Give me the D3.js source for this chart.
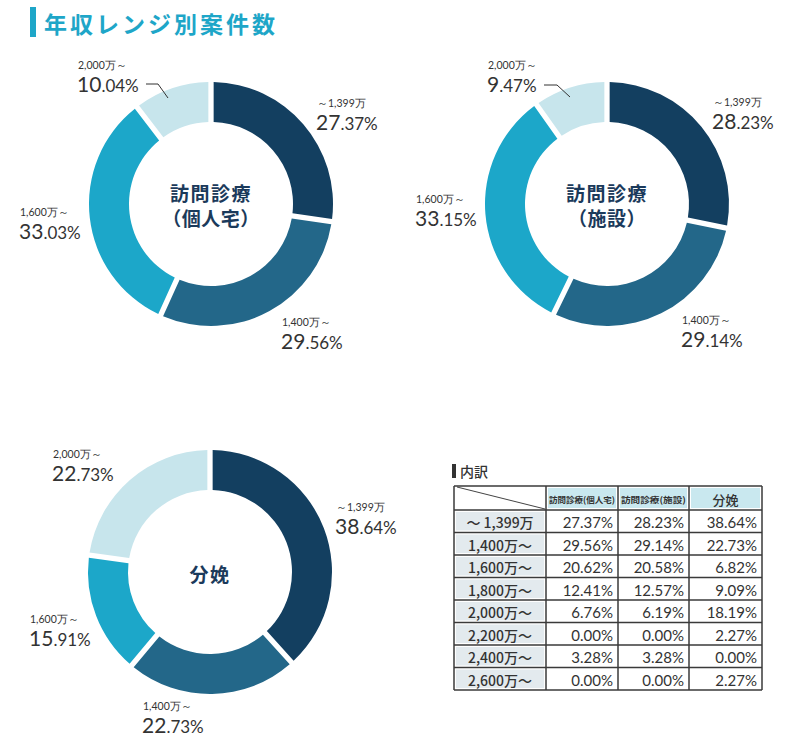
<!DOCTYPE html>
<html><head><meta charset="utf-8">
<script src="https://cdn.jsdelivr.net/npm/d3@7"></script>
<style>
html,body{margin:0;padding:0;background:#fff;}
svg{display:block;}
</style></head>
<body>
<script>
// ---- data ----
const categories = ["～1,399万", "1,400万～", "1,600万～", "2,000万～"];
const homeVisitPrivate = [27.37, 29.56, 33.03, 10.04];
const homeVisitFacility = [28.23, 29.14, 33.15, 9.47];
const childbirth = [38.64, 22.73, 15.91, 22.73];
const chartTitles = [["訪問診療", "（個人宅）"], ["訪問診療", "（施設）"], ["分娩"]];

const tableRows = ["～ 1,399万", "1,400万～", "1,600万～", "1,800万～", "2,000万～", "2,200万～", "2,400万～", "2,600万～"];
const tableCols = ["訪問診療(個人宅)", "訪問診療(施設)", "分娩"];
const tablePrivate = [27.37, 29.56, 20.62, 12.41, 6.76, 0.00, 3.28, 0.00];
const tableFacility = [28.23, 29.14, 20.58, 12.57, 6.19, 0.00, 3.28, 0.00];
const tableBirth = [38.64, 22.73, 6.82, 9.09, 18.19, 2.27, 0.00, 2.27];

// ---- layout / style ----
const W = 800, H = 744;
const colors = ["#133f60", "#236789", "#1ca7c9", "#c7e5ec"];
const numFont = "Lato, 'Noto Sans', sans-serif";
const jpFont = "'Noto Sans CJK JP', 'Noto Sans', sans-serif";

const svg = d3.select("body").append("svg").attr("width", W).attr("height", H);

// Title
svg.append("rect").attr("x", 30).attr("y", 7).attr("width", 6).attr("height", 30).attr("fill", "#1ea6c8");
svg.append("text").attr("x", 44).attr("y", 23).attr("dominant-baseline", "central")
  .attr("font-family", jpFont).attr("font-size", 23).attr("font-weight", 700)
  .attr("letter-spacing", 3).attr("fill", "#1ea6c8").text("年収レンジ別案件数");

const donuts = [
  { values: homeVisitPrivate, title: chartTitles[0], cx: 211, cy: 204,
    labels: [[317, 103], [282, 322], [20, 212], [78, 65]], leader: [3, [[146, 84], [158, 84], [168, 98]]] },
  { values: homeVisitFacility, title: chartTitles[1], cx: 607, cy: 204,
    labels: [[713, 102], [682, 320], [416, 199], [488, 65]], leader: [3, [[544, 85], [557, 85], [570, 97]]] },
  { values: childbirth, title: chartTitles[2], cx: 210, cy: 572,
    labels: [[336, 507], [143, 706], [30, 619], [53, 454]], leader: null }
];

const rOuter = 122, rInner = 82;
const arc = d3.arc().innerRadius(rInner).outerRadius(rOuter);
const pie = d3.pie().sort(null).value(d => d).startAngle(0).endAngle(2 * Math.PI).padAngle(0.036);

donuts.forEach(dn => {
  const g = svg.append("g").attr("transform", `translate(${dn.cx},${dn.cy})`);
  g.selectAll("path").data(pie(dn.values)).join("path")
    .attr("d", arc).attr("fill", (d, i) => colors[i]);

  // centre title
  const n = dn.title.length;
  dn.title.forEach((t, i) => {
    g.append("text").attr("x", 0).attr("y", (i - (n - 1) / 2) * 25 + 1)
      .attr("text-anchor", "middle").attr("dominant-baseline", "central")
      .attr("font-family", jpFont).attr("font-size", 19).attr("font-weight", 700)
      .attr("letter-spacing", i === 0 ? 1.5 : 0.5).attr("fill", "#1b3a5b").text(t);
  });

  // labels
  dn.values.forEach((v, i) => {
    const [lx, ly] = dn.labels[i];
    svg.append("text").attr("x", lx).attr("y", ly).attr("dominant-baseline", "central")
      .attr("font-family", numFont).attr("font-size", 10.5).attr("font-weight", 400)
      .attr("fill", "#333").text(categories[i]);
    const s = v.toFixed(2).split(".");
    const t = svg.append("text").attr("x", lx - 1).attr("y", ly + 27)
      .attr("font-family", numFont).attr("fill", "#333");
    t.append("tspan").attr("font-size", 21).attr("font-weight", 400).text(s[0]);
    t.append("tspan").attr("font-size", 17).attr("font-weight", 400).text("." + s[1] + "%");
  });

  if (dn.leader) {
    svg.append("path").attr("d", d3.line()(dn.leader[1]))
      .attr("fill", "none").attr("stroke", "#333").attr("stroke-width", 1);
  }
});

// ---- table ----
svg.append("rect").attr("x", 452).attr("y", 464).attr("width", 4).attr("height", 14).attr("fill", "#333");
svg.append("text").attr("x", 460).attr("y", 471).attr("dominant-baseline", "central")
  .attr("font-family", jpFont).attr("font-size", 14).attr("font-weight", 500).attr("fill", "#333").text("内訳");

const colEdges = [454, 546, 618, 689, 762];
const headerTop = 486, headerBottom = 510, tableBottom = 690;
const rowY = d3.scaleBand().domain(tableRows).range([headerBottom, tableBottom]);
const colData = [tablePrivate, tableFacility, tableBirth];
const tg = svg.append("g");
const inset = 2;

// header cells
tableCols.forEach((c, j) => {
  const x0 = colEdges[j + 1], x1 = colEdges[j + 2];
  tg.append("rect").attr("x", x0 + inset).attr("y", headerTop + inset)
    .attr("width", x1 - x0 - 2 * inset).attr("height", headerBottom - headerTop - 2 * inset).attr("fill", "#c9e8ef");
  const small = j < 2;
  const tx = tg.append("text").attr("x", (x0 + x1) / 2).attr("y", (headerTop + headerBottom) / 2 + 1)
    .attr("text-anchor", "middle").attr("dominant-baseline", "central")
    .attr("font-family", jpFont).attr("font-size", small ? 8.5 : 13).attr("font-weight", small ? 700 : 500)
    .attr("fill", "#333").text(c);
  if (small) tx.attr("textLength", x1 - x0 - 6).attr("lengthAdjust", "spacingAndGlyphs");
});
// diagonal
tg.append("line").attr("x1", colEdges[0] + 3).attr("y1", headerTop + 1).attr("x2", colEdges[1] - 1).attr("y2", headerBottom - 1)
  .attr("stroke", "#444").attr("stroke-width", 1);

// body
tableRows.forEach((r, i) => {
  const y0 = rowY(r), h = rowY.bandwidth();
  tg.append("rect").attr("x", colEdges[0] + inset).attr("y", y0 + inset)
    .attr("width", colEdges[1] - colEdges[0] - 2 * inset).attr("height", h - 2 * inset).attr("fill", "#e3eaee");
  tg.append("text").attr("x", (colEdges[0] + colEdges[1]) / 2).attr("y", y0 + h / 2 + 1)
    .attr("text-anchor", "middle").attr("dominant-baseline", "central")
    .attr("font-family", jpFont).attr("font-size", 14).attr("font-weight", 500).attr("fill", "#333").text(r);
  colData.forEach((arr, j) => {
    tg.append("text").attr("x", colEdges[j + 2] - 5).attr("y", y0 + h / 2 + 1)
      .attr("text-anchor", "end").attr("dominant-baseline", "central")
      .attr("font-family", numFont).attr("font-size", 15).attr("font-weight", 400).attr("fill", "#333")
      .text(arr[i].toFixed(2) + "%");
  });
});

// grid lines
const lineStyle = s => s.attr("stroke", "#3a3a3a").attr("stroke-width", 1.5);
colEdges.forEach(x => {
  tg.append("line").attr("x1", x).attr("x2", x).attr("y1", headerTop).attr("y2", tableBottom).call(lineStyle);
});
[headerTop, ...tableRows.map(r => rowY(r)), tableBottom].forEach(y => {
  tg.append("line").attr("x1", colEdges[0]).attr("x2", colEdges[4]).attr("y1", y).attr("y2", y).call(lineStyle);
});
</script>
</body></html>
